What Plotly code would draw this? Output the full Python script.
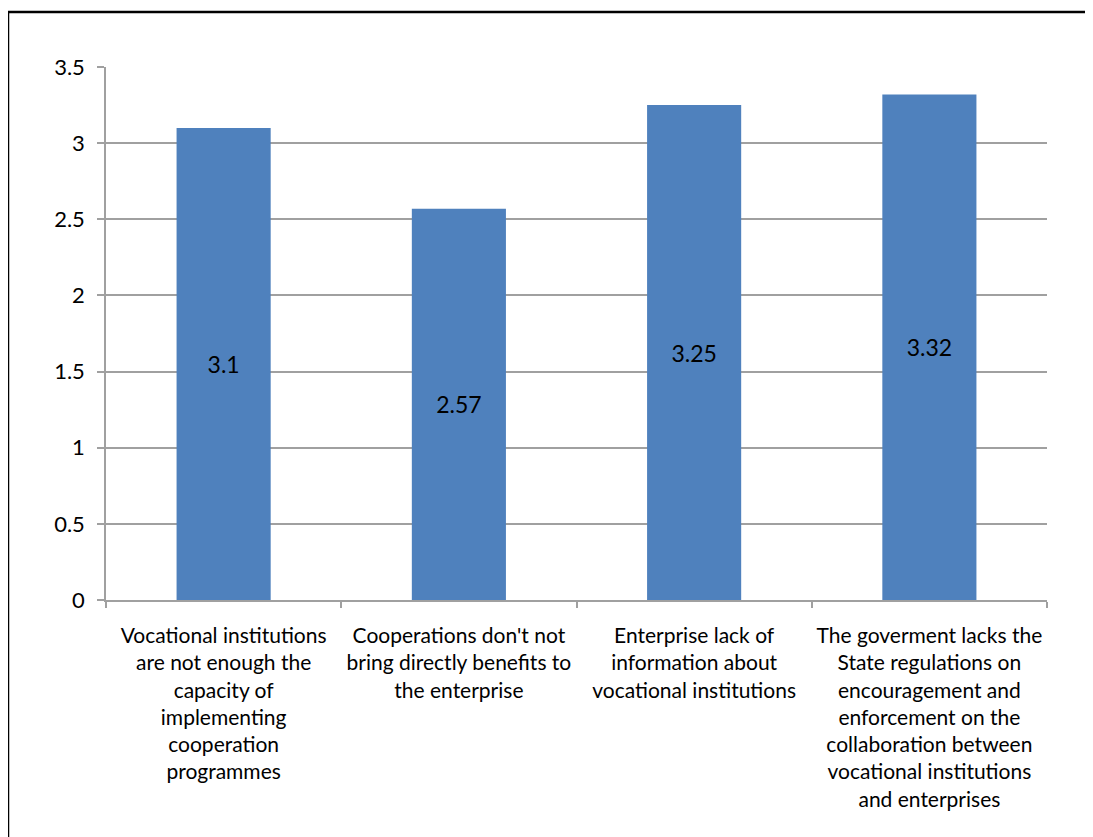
import plotly.graph_objects as go

categories = [
    "Vocational institutions<br>are not enough the<br>capacity of<br>implementing<br>cooperation<br>programmes",
    "Cooperations don't not<br>bring directly benefits to<br>the enterprise",
    "Enterprise lack of<br>information about<br>vocational institutions",
    "The goverment lacks the<br>State regulations on<br>encouragement and<br>enforcement on the<br>collaboration between<br>vocational institutions<br>and enterprises",
]
values = [3.1, 2.57, 3.25, 3.32]
y_ticks = [0, 0.5, 1, 1.5, 2, 2.5, 3, 3.5]
y_tick_labels = ["0", "0.5", "1", "1.5", "2", "2.5", "3", "3.5"]

# page has an 8px body margin, so the figure is sized/offset to compensate
W, H = 1085, 829
L, R, T, B = 98, 46, 59, 237
pw, ph = W - L - R, H - T - B

font_family = "Lato, 'Open Sans', sans-serif"

fig = go.Figure(go.Bar(
    x=categories,
    y=values,
    marker=dict(color="#4f81bd", line=dict(width=0)),
    text=[str(v) for v in values],
    textposition="inside",
    insidetextanchor="middle",
    textangle=0,
    textfont=dict(color="black", size=23, family=font_family),
))

fig.update_layout(
    width=W, height=H,
    margin=dict(l=L, r=R, t=T, b=B, pad=0, autoexpand=False),
    paper_bgcolor="white",
    plot_bgcolor="white",
    bargap=0.6,
    showlegend=False,
    font=dict(family=font_family, size=21, color="black"),
)

fig.update_xaxes(
    tickson="boundaries",
    ticks="outside",
    ticklen=6,
    tickcolor="#a0a0a0",
    tickwidth=1.5,
    showline=True,
    linecolor="#a0a0a0",
    linewidth=1.5,
    showgrid=False,
    tickangle=0,
    automargin=False,
    tickfont=dict(size=21, color="black"),
    ticklabelstandoff=16,
)

fig.update_yaxes(
    range=[0, 3.5],
    tickvals=y_ticks,
    ticktext=y_tick_labels,
    ticks="outside",
    ticklen=7,
    tickcolor="#a0a0a0",
    tickwidth=1.5,
    showline=True,
    linecolor="#a0a0a0",
    linewidth=1.5,
    showgrid=True,
    gridcolor="#a0a0a0",
    gridwidth=1.5,
    zeroline=False,
    automargin=False,
    tickfont=dict(size=22, color="black"),
    ticklabelstandoff=8,
)

# outer chart border (extends beyond right and bottom edges)
x0 = (0 - L) / pw
y1 = (H - B - 4) / ph
fig.add_shape(
    type="rect", xref="paper", yref="paper",
    x0=x0, x1=1.2, y0=-0.6, y1=y1,
    line=dict(color="black", width=2.5),
    fillcolor="rgba(0,0,0,0)",
    layer="below",
)

fig.write_html("out.html")
